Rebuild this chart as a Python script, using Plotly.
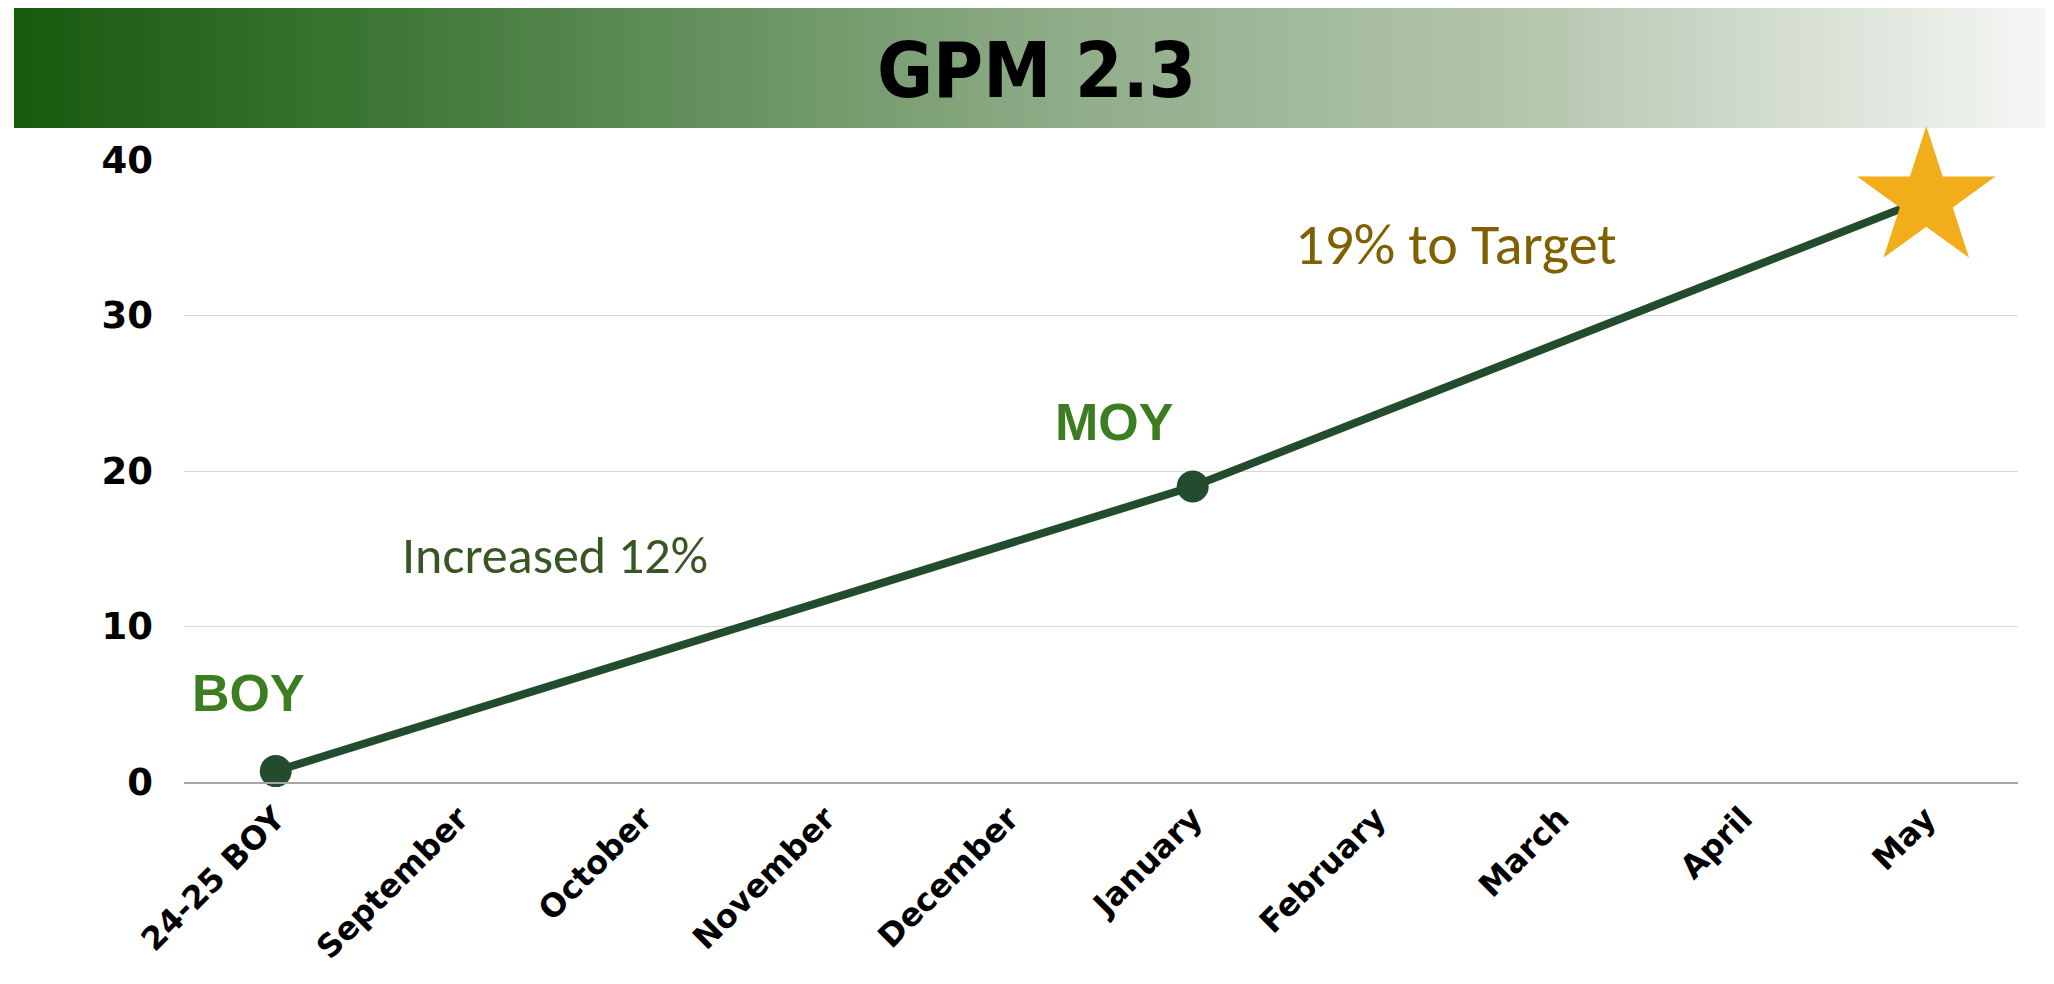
import plotly.graph_objects as go

categories = ["24-25 BOY", "September", "October", "November", "December",
              "January", "February", "March", "April", "May"]
values = [0.7, None, None, None, None, 19.0, None, None, None, 37.5]
point_symbols = ["circle", "circle", "circle", "circle", "circle",
                 "circle", "circle", "circle", "circle", "star"]
y_ticks = [0, 10, 20, 30, 40]
title_text = "GPM 2.3"

# page has an 8px body margin; figure sized to fit the window
OFF = 8
W, H = 2054 - 2 * OFF, 984 - 2 * OFF
L, R, T, B = 184 - OFF, W - (2018 - OFF), 160 - OFF, H - (782 - OFF)
pw, ph = W - L - R, H - T - B

def px_x(x):  # page pixel -> paper
    return (x - OFF - L) / pw

def px_y(y):
    return (H - B - (y - OFF)) / ph

line_color = "#234B2D"
star_color = "#F2AD1B"
sizes = [32 if s == "circle" else 104 for s in point_symbols]
colors = [line_color if s == "circle" else star_color for s in point_symbols]

fig = go.Figure()
fig.add_trace(go.Scatter(
    x=categories, y=values, mode="lines+markers", connectgaps=True,
    line=dict(color=line_color, width=8),
    marker=dict(symbol=point_symbols, size=sizes, color=colors, opacity=1, line=dict(width=0)),
    opacity=1, cliponaxis=False, showlegend=False, hoverinfo="x+y",
))

# gradient header bar
stops = [(0.0, (22, 90, 12)), (0.25, (78, 130, 70)), (0.5, (140, 170, 133)),
         (0.75, (182, 199, 176)), (1.0, (247, 248, 246))]

def interp(t):
    for (t0, c0), (t1, c1) in zip(stops[:-1], stops[1:]):
        if t <= t1:
            f = (t - t0) / (t1 - t0)
            return tuple(round(c0[i] + (c1[i] - c0[i]) * f) for i in range(3))
    return stops[-1][1]

shapes = []
N = 160
x0p, x1p = 14, 2054
for i in range(N):
    a = x0p + (x1p - x0p) * i / N
    b = x0p + (x1p - x0p) * (i + 1) / N + 0.8
    c = interp((i + 0.5) / N)
    shapes.append(dict(type="rect", xref="paper", yref="paper",
                       x0=px_x(a), x1=px_x(b), y0=px_y(128), y1=px_y(0),
                       fillcolor="rgb(%d,%d,%d)" % c, line=dict(width=0), layer="below"))

annotations = [
    dict(text=title_text, xref="paper", yref="paper", x=px_x(1036), y=px_y(71),
         showarrow=False,
         font=dict(family="DejaVu Sans Condensed, Liberation Sans", size=76, color="black", weight="bold"),
         xanchor="center", yanchor="middle"),
    dict(text="BOY", xref="paper", yref="paper", x=px_x(248), y=px_y(693),
         showarrow=False, font=dict(family="Liberation Sans", size=52, color="#3C7D22", weight="bold"),
         xanchor="center", yanchor="middle"),
    dict(text="MOY", xref="paper", yref="paper", x=px_x(1114), y=px_y(422),
         showarrow=False, font=dict(family="Liberation Sans", size=52, color="#3C7D22", weight="bold"),
         xanchor="center", yanchor="middle"),
    dict(text="Increased 12%", xref="paper", yref="paper", x=px_x(555), y=px_y(555),
         showarrow=False, font=dict(family="Carlito, Lato", size=52, color="#375623"),
         xanchor="center", yanchor="middle"),
    dict(text="19% to Target", xref="paper", yref="paper", x=px_x(1456), y=px_y(244),
         showarrow=False, font=dict(family="Carlito, Lato", size=58, color="#806000"),
         xanchor="center", yanchor="middle"),
]

fig.update_layout(
    width=W, height=H,
    margin=dict(l=L, r=R, t=T, b=B, pad=0),
    paper_bgcolor="white", plot_bgcolor="white",
    shapes=shapes, annotations=annotations,
    xaxis=dict(type="category", categoryorder="array", categoryarray=categories,
               range=[-0.5, len(categories) - 0.5], automargin=False,
               tickangle=-45, showgrid=False, showline=True, linecolor="#A6A6A6", linewidth=1.5,
               ticks="", tickfont=dict(family="DejaVu Sans", size=32, color="black", weight="bold"),
               ticklabelstandoff=3, zeroline=False),
    yaxis=dict(range=[0, 40], tickvals=y_ticks, showgrid=True, gridcolor="#D9D9D9", gridwidth=1.2,
               automargin=False, zeroline=False, showline=False, ticks="",
               tickfont=dict(family="DejaVu Sans", size=37, color="black", weight="bold"),
               ticklabelstandoff=30),
)

fig.write_html("out.html")
